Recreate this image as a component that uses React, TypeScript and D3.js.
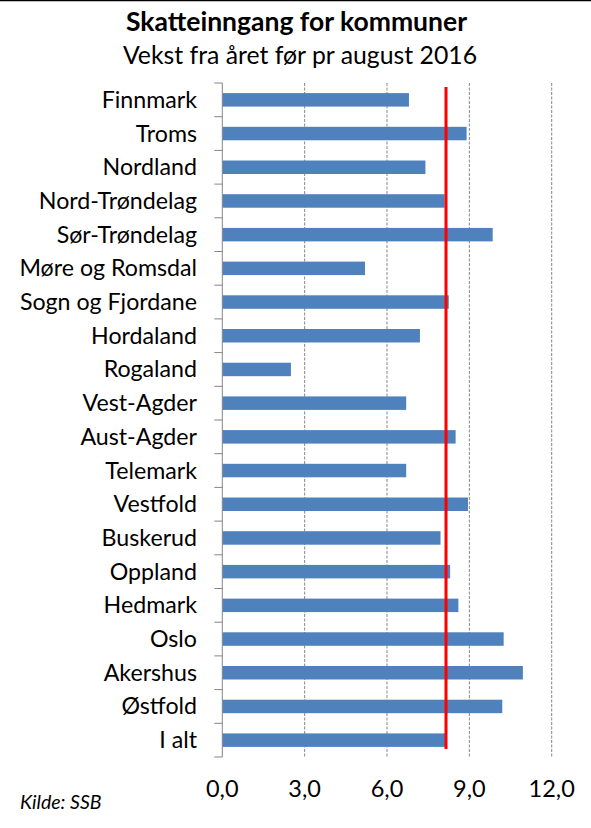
import React from "react";
import * as d3 from "d3";

const categories: string[] = [
  "Finnmark", "Troms", "Nordland", "Nord-Trøndelag", "Sør-Trøndelag",
  "Møre og Romsdal", "Sogn og Fjordane", "Hordaland", "Rogaland", "Vest-Agder",
  "Aust-Agder", "Telemark", "Vestfold", "Buskerud", "Oppland",
  "Hedmark", "Oslo", "Akershus", "Østfold", "I alt",
];
const values: number[] = [
  6.8, 8.9, 7.4, 8.1, 9.85,
  5.2, 8.25, 7.2, 2.5, 6.7,
  8.5, 6.7, 8.95, 7.95, 8.3,
  8.6, 10.25, 10.95, 10.2, 8.15,
];
const totalLine = 8.15;
const xTicks: number[] = [0, 3, 6, 9, 12];
const title = "Skatteinngang for kommuner";
const subtitle = "Vekst fra året før pr august 2016";
const source = "Kilde: SSB";

const W = 591;
const H = 828;
const plotLeft = 222.3;
const plotRight = 551.7;
const plotTop = 83;
const plotBottom = 757;
const FONT = "Lato, 'Open Sans', sans-serif";

export default function App() {
  const x = d3.scaleLinear().domain([0, 12]).range([plotLeft, plotRight]);
  const y = d3
    .scaleBand<string>()
    .domain(categories)
    .range([plotTop, plotBottom])
    .paddingInner(0.6)
    .paddingOuter(0.3);
  const boundaries = d3
    .range(categories.length + 1)
    .map((i) => plotTop + i * ((plotBottom - plotTop) / categories.length));
  const fmt = (v: number) => v.toFixed(1).replace(".", ",");

  return (
    <svg
      width={W}
      height={H}
      style={{ position: "absolute", left: 0, top: 0, background: "#fff" }}
      fontFamily={FONT}
    >
      <rect x={0} y={0} width={W} height={H} fill="#fff" />
      <line x1={0} x2={W} y1={0.5} y2={0.5} stroke="#000" strokeWidth={1.5} />
      <text x={296.5} y={31} textAnchor="middle" fontSize={26.5} fontWeight="bold" fill="#000">
        {title}
      </text>
      <text x={300} y={64} textAnchor="middle" fontSize={24.8} fill="#000">
        {subtitle}
      </text>

      {xTicks.slice(1).map((t) => (
        <line
          key={t}
          x1={x(t)}
          x2={x(t)}
          y1={plotTop}
          y2={plotBottom}
          stroke="#868686"
          strokeWidth={1}
          strokeDasharray="3,1.5"
        />
      ))}

      {categories.map((c, i) => (
        <rect
          key={c}
          x={x(0)}
          y={y(c)}
          width={x(values[i]) - x(0)}
          height={y.bandwidth()}
          fill="#4F81BD"
        />
      ))}

      <line x1={plotLeft} x2={plotLeft} y1={plotTop} y2={plotBottom} stroke="#868686" strokeWidth={1} />
      {boundaries.map((b, i) => (
        <line key={i} x1={plotLeft - 8} x2={plotLeft} y1={b} y2={b} stroke="#868686" strokeWidth={1} />
      ))}

      <line
        x1={x(totalLine)}
        x2={x(totalLine)}
        y1={plotTop + 4}
        y2={plotBottom - 8}
        stroke="#FF0000"
        strokeWidth={3}
      />

      {categories.map((c) => (
        <text
          key={c}
          x={197}
          y={(y(c) as number) + y.bandwidth() / 2 + 8}
          textAnchor="end"
          fontSize={23.2}
          fill="#000"
        >
          {c}
        </text>
      ))}

      {xTicks.map((t) => (
        <text key={t} x={x(t)} y={797} textAnchor="middle" fontSize={23.5} fill="#000">
          {fmt(t)}
        </text>
      ))}

      <text x={20} y={809} fontSize={19.5} fontStyle="italic" fill="#000">
        {source}
      </text>
    </svg>
  );
}
